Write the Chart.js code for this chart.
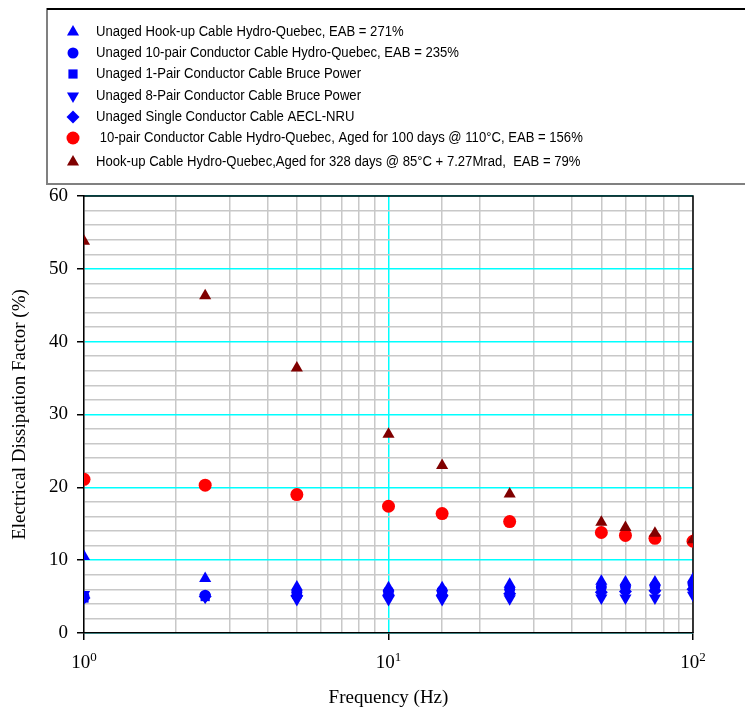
<!DOCTYPE html>
<html>
<head>
<meta charset="utf-8">
<script src="https://cdn.jsdelivr.net/npm/chart.js@4/dist/chart.umd.min.js"></script>
<style>
  html, body { margin: 0; padding: 0; background: #ffffff; }
  #wrap { width: 745px; height: 709px; position: relative; }
</style>
</head>
<body>
<div id="wrap"><canvas id="dfChart" width="745" height="709"></canvas></div>
<script>

// frequencies (Hz)
const freqs = [1, 2.5, 5, 10, 15, 25, 50, 60, 75, 100];

// dissipation factor (%) per cable
const unagedHookup = [10.5, 7.5, 6.3, 6.2, 6.2, 6.7, 7.1, 7.0, 7.0, 7.4];
const unaged10Pair = [5.0, 5.2, 5.6, 5.7, 5.8, 6.0, 6.3, 6.4, 6.5, 6.8];
const unaged1Pair = [4.8, 5.0, 5.3, 5.4, 5.4, 5.6, 5.9, 6.0, 6.1, 6.3];
const unaged8Pair = [5.3, 4.9, 4.6, 4.6, 4.6, 4.7, 4.8, 4.8, 4.8, 5.2];
const unagedSingle = [4.8, 5.0, 5.1, 5.2, 5.2, 5.4, 5.6, 5.7, 5.8, 6.0];
const aged10Pair = [21.1, 20.3, 19.0, 17.4, 16.4, 15.3, 13.8, 13.4, 13.0, 12.6];
const agedHookup = [53.8, 46.3, 36.4, 27.3, 23.0, 19.1, 15.2, 14.5, 13.7, 12.8];

const seriesLabels = [
    "Unaged Hook-up Cable Hydro-Quebec, EAB = 271%",
    "Unaged 10-pair Conductor Cable Hydro-Quebec, EAB = 235%",
    "Unaged 1-Pair Conductor Cable Bruce Power",
    "Unaged 8-Pair Conductor Cable Bruce Power",
    "Unaged Single Conductor Cable AECL-NRU",
    " 10-pair Conductor Cable Hydro-Quebec, Aged for 100 days @ 110°C, EAB = 156%",
    "Hook-up Cable Hydro-Quebec,Aged for 328 days @ 85°C + 7.27Mrad,  EAB = 79%"
];

// x tick labels: base and exponent
const xTickValues = [1, 10, 100];
const xTickExponents = ["0", "1", "2"];

const yTickStep = 2;

const BLUE = "#0000ff";
const RED = "#ff0000";
const DARK_RED = "#800000";
const GRID = "#c8c8c8";
const CYAN = "#00ffff";

function toPoints(values) {
    return freqs.map((f, i) => ({ x: f, y: values[i] }));
}

function makeSet(label, values, color, style, radius, rotation, order) {
    return {
        label,
        data: toPoints(values),
        backgroundColor: color,
        borderColor: color,
        pointStyle: style,
        pointRadius: radius,
        pointHoverRadius: radius,
        pointRotation: rotation,
        borderWidth: 0,
        showLine: false,
        order
    };
}

const datasets = [
    makeSet(seriesLabels[0], unagedHookup, BLUE, "triangle", 7, 0, 6),
    makeSet(seriesLabels[1], unaged10Pair, BLUE, "circle", 5.5, 0, 5),
    makeSet(seriesLabels[2], unaged1Pair, BLUE, "rect", 6.5, 0, 4),
    makeSet(seriesLabels[3], unaged8Pair, BLUE, "triangle", 7, 180, 3),
    makeSet(seriesLabels[4], unagedSingle, BLUE, "rectRot", 6.5, 0, 2),
    makeSet(seriesLabels[5], aged10Pair, RED, "circle", 6.5, 0, 1),
    makeSet(seriesLabels[6], agedHookup, DARK_RED, "triangle", 7, 0, 0)
];

// legend box above the plot
const boxLegend = {
    id: "boxLegend",
    afterDraw(chart) {
        const ctx = chart.ctx;
        const rows = [32, 53, 74, 96, 117, 138, 162];
        ctx.save();
        ctx.strokeStyle = "#808080";
        ctx.lineWidth = 2;
        ctx.strokeRect(47, 9, 720, 175);
        ctx.strokeStyle = "#000000";
        ctx.beginPath();
        ctx.moveTo(47, 9);
        ctx.lineTo(745, 9);
        ctx.stroke();
        ctx.textBaseline = "middle";
        ctx.textAlign = "left";
        chart.data.datasets.forEach((ds, i) => {
            ctx.fillStyle = ds.backgroundColor;
            ctx.strokeStyle = ds.backgroundColor;
            Chart.helpers.drawPoint(ctx, {
                pointStyle: ds.pointStyle,
                radius: ds.pointRadius,
                rotation: ds.pointRotation,
                borderWidth: 0
            }, 73, rows[i]);
            // narrow sans text, as in the original
            ctx.save();
            ctx.translate(96, rows[i]);
            ctx.scale(0.845, 1);
            ctx.font = "15.5px 'Liberation Sans', Arial, sans-serif";
            ctx.fillStyle = "#000000";
            ctx.fillText(ds.label, 0, 0);
            ctx.restore();
        });
        ctx.restore();
    }
};

// top and right edges of the plot frame
const plotFrame = {
    id: "plotFrame",
    beforeDatasetsDraw(chart) {
        const { ctx, chartArea } = chart;
        ctx.save();
        ctx.strokeStyle = "#000000";
        ctx.lineWidth = 1.5;
        ctx.beginPath();
        ctx.moveTo(chartArea.left, chartArea.top);
        ctx.lineTo(chartArea.right, chartArea.top);
        ctx.lineTo(chartArea.right, chartArea.bottom);
        ctx.stroke();
        ctx.restore();
    }
};

const serif = "'Liberation Serif', 'Times New Roman', serif";

// power-of-ten labels with raised exponents
const powerLabels = {
    id: "powerLabels",
    afterDraw(chart) {
        const ctx = chart.ctx;
        const xs = chart.scales.x;
        const base = xs.bottom - 41;
        ctx.save();
        ctx.fillStyle = "#000000";
        ctx.textBaseline = "alphabetic";
        ctx.textAlign = "left";
        xTickValues.forEach((v, i) => {
            const px = xs.getPixelForValue(v);
            ctx.font = "19px " + serif;
            const w1 = ctx.measureText("10").width;
            ctx.font = "13px " + serif;
            const w2 = ctx.measureText(xTickExponents[i]).width;
            const left = px - (w1 + w2) / 2;
            ctx.font = "19px " + serif;
            ctx.fillText("10", left, base);
            ctx.font = "13px " + serif;
            ctx.fillText(xTickExponents[i], left + w1, base - 7);
        });
        ctx.restore();
    }
};

new Chart(document.getElementById("dfChart"), {
    type: "scatter",
    data: { datasets },
    options: {
        responsive: false,
        animation: false,
        events: [],
        layout: {
            padding: { top: 196, right: 52, left: 0, bottom: 0 }
        },
        plugins: {
            legend: { display: false },
            tooltip: { enabled: false }
        },
        scales: {
            x: {
                type: "logarithmic",
                min: 1,
                max: 100,
                afterFit(scale) {
                    scale.height = 76;
                },
                border: { color: "#000000", width: 1.5 },
                grid: {
                    color: c => (c.tick && c.tick.value === 10 ? CYAN : GRID),
                    lineWidth: 1.5,
                    tickColor: c => (c.tick && xTickValues.includes(c.tick.value) ? "#000000" : "rgba(0,0,0,0)"),
                    tickLength: 7,
                    tickWidth: 1.5
                },
                ticks: {
                    autoSkip: false,
                    maxRotation: 0,
                    padding: 4,
                    color: "#000000",
                    font: { family: serif, size: 19 },
                    callback: () => ""
                },
                title: {
                    display: true,
                    text: "Frequency (Hz)",
                    color: "#000000",
                    font: { family: serif, size: 19, lineHeight: 1 },
                    padding: { top: 0, bottom: 1 }
                }
            },
            y: {
                min: 0,
                max: 60,
                afterFit(scale) {
                    scale.width = 84;
                },
                border: { color: "#000000", width: 1.5 },
                grid: {
                    color: c => (c.tick && c.tick.value % 10 === 0 ? CYAN : GRID),
                    lineWidth: 1.5,
                    tickColor: c => (c.tick && c.tick.value % 10 === 0 ? "#000000" : "rgba(0,0,0,0)"),
                    tickLength: 7,
                    tickWidth: 1.5
                },
                ticks: {
                    stepSize: yTickStep,
                    autoSkip: false,
                    padding: 9,
                    color: "#000000",
                    font: { family: serif, size: 19 },
                    callback: v => (v % 10 === 0 ? v : "")
                },
                title: {
                    display: true,
                    text: "Electrical Dissipation Factor (%)",
                    color: "#000000",
                    font: { family: serif, size: 19, lineHeight: 1 },
                    padding: { top: 10.5, bottom: 0 }
                }
            }
        }
    },
    plugins: [boxLegend, plotFrame, powerLabels]
});

</script>
</body>
</html>
